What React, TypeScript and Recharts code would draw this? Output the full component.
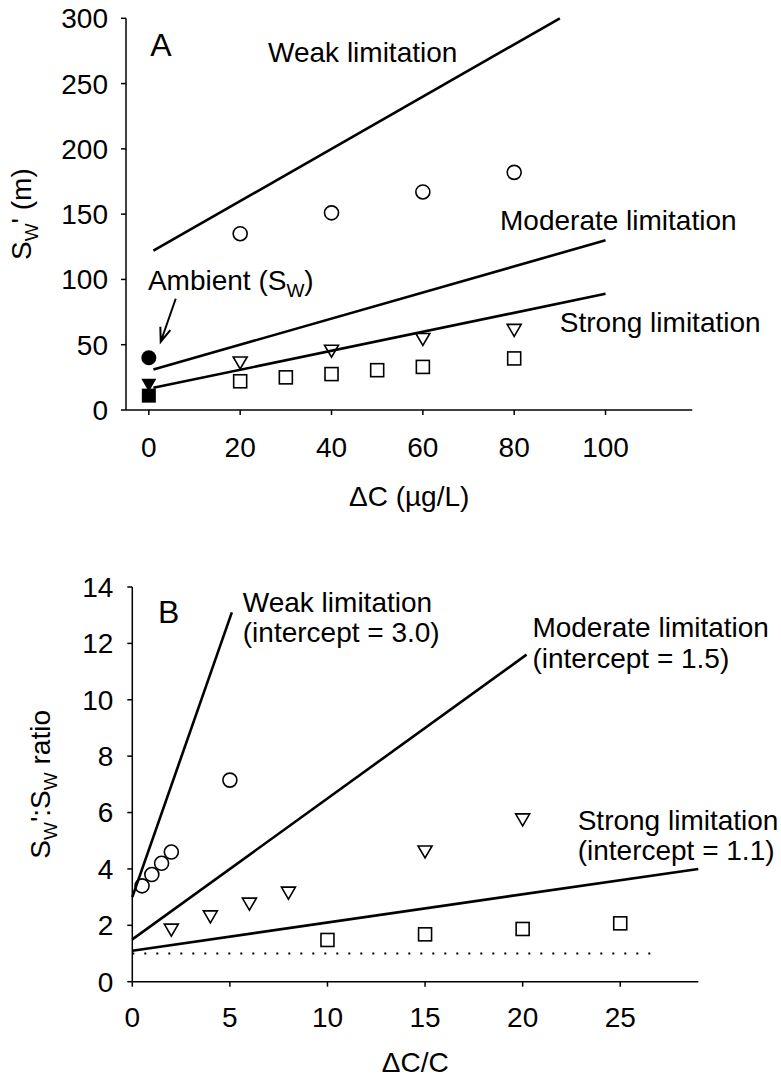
import React from "react";
import { ScatterChart, Scatter, XAxis, YAxis, Label } from "recharts";

const FONT = '"Liberation Sans", Arial, Helvetica, sans-serif';

// ---- Panel A: Sw' (m) against ΔC (µg/L) ----
const aXTicks = [0, 20, 40, 60, 80, 100];
const aYTicks = [0, 50, 100, 150, 200, 250, 300];

const aWeakFit = [{ x: 1, y: 122 }, { x: 90, y: 300 }];
const aModerateFit = [{ x: 1, y: 31 }, { x: 100, y: 130 }];
const aStrongFit = [{ x: 1, y: 17 }, { x: 100, y: 89 }];

const aWeakObs = [{ x: 20, y: 135 }, { x: 40, y: 151 }, { x: 60, y: 167 }, { x: 80, y: 182 }];
const aModerateObs = [{ x: 20, y: 36 }, { x: 40, y: 45 }, { x: 60, y: 54 }, { x: 80, y: 61 }];
const aStrongObs = [
  { x: 20, y: 22 }, { x: 30, y: 25 }, { x: 40, y: 27.5 },
  { x: 50, y: 30.5 }, { x: 60, y: 33 }, { x: 80, y: 39.5 },
];
const aAmbientWeak = [{ x: 0, y: 40 }];
const aAmbientModerate = [{ x: 0, y: 19 }];
const aAmbientStrong = [{ x: 0, y: 11 }];

const aNotes = [
  { x: 0.3, y: 271.5, big: true, parts: [{ t: "A" }] },
  { x: 26.1, y: 266.3, parts: [{ t: "Weak limitation" }] },
  { x: 76.9, y: 137.7, parts: [{ t: "Moderate limitation" }] },
  { x: 90, y: 59.9, parts: [{ t: "Strong limitation" }] },
  { x: -0.2, y: 91.8, parts: [{ t: "Ambient (S" }, { t: "W", sub: true }, { t: ")" }] },
];
const aArrowTip = [{ x: 2.6, y: 52.3 }];

// ---- Panel B: Sw':Sw ratio against ΔC/C ----
const bXTicks = [0, 5, 10, 15, 20, 25];
const bYTicks = [0, 2, 4, 6, 8, 10, 12, 14];

const bWeakFit = [{ x: 0, y: 3.0 }, { x: 5.1, y: 13.1 }];
const bModerateFit = [{ x: 0, y: 1.5 }, { x: 20.2, y: 11.6 }];
const bStrongFit = [{ x: 0, y: 1.1 }, { x: 29, y: 4.0 }];
const bUnity = [{ x: 0, y: 1 }, { x: 27, y: 1 }];

const bWeakObs = [{ x: 0.5, y: 3.4 }, { x: 1, y: 3.8 }, { x: 1.5, y: 4.2 }, { x: 2, y: 4.6 }, { x: 5, y: 7.15 }];
const bModerateObs = [
  { x: 2, y: 1.83 }, { x: 4, y: 2.3 }, { x: 6, y: 2.75 },
  { x: 8, y: 3.14 }, { x: 15, y: 4.6 }, { x: 20, y: 5.74 },
];
const bStrongObs = [{ x: 10, y: 1.48 }, { x: 15, y: 1.68 }, { x: 20, y: 1.87 }, { x: 25, y: 2.07 }];

const bNotes = [
  { x: 1.32, y: 12.72, big: true, parts: [{ t: "B" }] },
  { x: 5.66, y: 13.13, parts: [{ t: "Weak limitation" }] },
  { x: 5.66, y: 12.06, parts: [{ t: "(intercept = 3.0)" }] },
  { x: 20.5, y: 12.24, parts: [{ t: "Moderate limitation" }] },
  { x: 20.5, y: 11.12, parts: [{ t: "(intercept = 1.5)" }] },
  { x: 22.82, y: 5.38, parts: [{ t: "Strong limitation" }] },
  { x: 22.82, y: 4.32, parts: [{ t: "(intercept = 1.1)" }] },
];

// ---- shapes ----
const none = () => <g />;
const openCircle = (p: any) => (
  <circle cx={p.cx} cy={p.cy} r={7} fill="none" stroke="#000" strokeWidth={1.6} />
);
const solidCircle = (p: any) => <circle cx={p.cx} cy={p.cy} r={7.5} fill="#000" />;
const openSquare = (p: any) => (
  <rect x={p.cx - 6.5} y={p.cy - 6.5} width={13} height={13} fill="none" stroke="#000" strokeWidth={1.6} />
);
const solidSquare = (p: any) => <rect x={p.cx - 7} y={p.cy - 7} width={14} height={14} fill="#000" />;
const openTriangle = (p: any) => (
  <path
    d={`M${p.cx - 7},${p.cy - 6}L${p.cx + 7},${p.cy - 6}L${p.cx},${p.cy + 6}Z`}
    fill="none" stroke="#000" strokeWidth={1.6}
  />
);
const solidTriangle = (p: any) => (
  <path d={`M${p.cx - 7.5},${p.cy - 6.5}L${p.cx + 7.5},${p.cy - 6.5}L${p.cx},${p.cy + 6.5}Z`} fill="#000" />
);

function richText(parts: { t: string; sub?: boolean }[], size = 28) {
  let prevSub = false;
  return parts.map((p, i) => {
    const dy = p.sub ? 7 : prevSub ? -7 : 0;
    prevSub = !!p.sub;
    return (
      <tspan key={i} dy={dy} fontSize={p.sub ? 19 : size}>
        {p.t}
      </tspan>
    );
  });
}

const noteShape = (p: any) => (
  <text x={p.cx} y={p.cy} fontSize={28} fontFamily={FONT} fill="#000" textAnchor="start">
    {richText(p.payload.parts, p.payload.big ? 32 : 28)}
  </text>
);

const arrowShape = (p: any) => {
  const { cx, cy } = p;
  const dx = 15, dy = -43;
  const len = Math.hypot(dx, dy);
  const ux = dx / len, uy = dy / len;
  const a = 0.36, L = 15;
  const b1x = cx + L * (ux * Math.cos(a) - uy * Math.sin(a));
  const b1y = cy + L * (ux * Math.sin(a) + uy * Math.cos(a));
  const b2x = cx + L * (ux * Math.cos(-a) - uy * Math.sin(-a));
  const b2y = cy + L * (ux * Math.sin(-a) + uy * Math.cos(-a));
  return (
    <path
      d={`M${cx + dx},${cy + dy}L${cx},${cy}M${b1x},${b1y}L${cx},${cy}L${b2x},${b2y}`}
      stroke="#000" strokeWidth={2} fill="none"
    />
  );
};

const fitLine = { stroke: "#000", strokeWidth: 2.6 };
const axisStyle = { stroke: "#000", strokeWidth: 1.5 };
const tickStyle = { fill: "#000", fontSize: 28, fontFamily: FONT };

const yTitleA = (props: any) => {
  const vb = props.viewBox;
  const x = vb.x + 31;
  const y = vb.y + vb.height / 2;
  return (
    <text transform={`translate(${x},${y}) rotate(-90)`} textAnchor="middle" fontFamily={FONT} fontSize={28} fill="#000">
      {richText([{ t: "S" }, { t: "W", sub: true }, { t: "' (m)" }])}
    </text>
  );
};

const xTitleA = (props: any) => {
  const vb = props.viewBox;
  return (
    <text x={vb.x + vb.width / 2} y={vb.y + 96} textAnchor="middle" fontFamily={FONT} fontSize={28} fill="#000">
      ΔC (µg/L)
    </text>
  );
};

const yTitleB = (props: any) => {
  const vb = props.viewBox;
  const x = vb.x + 50;
  const y = vb.y + vb.height / 2;
  return (
    <text transform={`translate(${x},${y}) rotate(-90)`} textAnchor="middle" fontFamily={FONT} fontSize={28} fill="#000">
      {richText([{ t: "S" }, { t: "W", sub: true }, { t: "':S" }, { t: "W", sub: true }, { t: " ratio" }])}
    </text>
  );
};

const xTitleB = (props: any) => {
  const vb = props.viewBox;
  return (
    <text x={vb.x + vb.width / 2} y={vb.y + 90} textAnchor="middle" fontFamily={FONT} fontSize={28} fill="#000">
      ΔC/C
    </text>
  );
};

function PanelA() {
  return (
    <ScatterChart width={781} height={525} margin={{ top: 18.3, right: 88.7, bottom: 55, left: 0 }}>
      <XAxis
        type="number" dataKey="x" domain={[-5, 119]} ticks={aXTicks} height={60}
        axisLine={axisStyle} tickLine={axisStyle} tickSize={5} tickMargin={22} tick={tickStyle}
      >
        <Label content={xTitleA} />
      </XAxis>
      <YAxis
        type="number" dataKey="y" domain={[0, 300]} ticks={aYTicks} width={126}
        axisLine={axisStyle} tickLine={axisStyle} tickSize={5} tickMargin={13} tick={tickStyle}
      >
        <Label content={yTitleA} />
      </YAxis>
      <Scatter data={aWeakFit} line={fitLine} shape={none} isAnimationActive={false} />
      <Scatter data={aModerateFit} line={fitLine} shape={none} isAnimationActive={false} />
      <Scatter data={aStrongFit} line={fitLine} shape={none} isAnimationActive={false} />
      <Scatter data={aWeakObs} shape={openCircle} isAnimationActive={false} />
      <Scatter data={aModerateObs} shape={openTriangle} isAnimationActive={false} />
      <Scatter data={aStrongObs} shape={openSquare} isAnimationActive={false} />
      <Scatter data={aAmbientWeak} shape={solidCircle} isAnimationActive={false} />
      <Scatter data={aAmbientStrong} shape={solidSquare} isAnimationActive={false} />
      <Scatter data={aAmbientModerate} shape={solidTriangle} isAnimationActive={false} />
      <Scatter data={aArrowTip} shape={arrowShape} isAnimationActive={false} />
      <Scatter data={aNotes} shape={noteShape} isAnimationActive={false} />
    </ScatterChart>
  );
}

function PanelB() {
  return (
    <ScatterChart width={781} height={539} margin={{ top: 47, right: 82.7, bottom: 37.3, left: 0 }}>
      <XAxis
        type="number" dataKey="x" domain={[0, 29]} ticks={bXTicks} height={60}
        axisLine={axisStyle} tickLine={axisStyle} tickSize={5} tickMargin={20} tick={tickStyle}
      >
        <Label content={xTitleB} />
      </XAxis>
      <YAxis
        type="number" dataKey="y" domain={[0, 14]} ticks={bYTicks} width={132.3}
        axisLine={axisStyle} tickLine={axisStyle} tickSize={5} tickMargin={14} tick={tickStyle}
      >
        <Label content={yTitleB} />
      </YAxis>
      <Scatter
        data={bUnity}
        line={{ stroke: "#000", strokeWidth: 2, strokeDasharray: "2 10" }}
        shape={none}
        isAnimationActive={false}
      />
      <Scatter data={bWeakFit} line={fitLine} shape={none} isAnimationActive={false} />
      <Scatter data={bModerateFit} line={fitLine} shape={none} isAnimationActive={false} />
      <Scatter data={bStrongFit} line={fitLine} shape={none} isAnimationActive={false} />
      <Scatter data={bWeakObs} shape={openCircle} isAnimationActive={false} />
      <Scatter data={bModerateObs} shape={openTriangle} isAnimationActive={false} />
      <Scatter data={bStrongObs} shape={openSquare} isAnimationActive={false} />
      <Scatter data={bNotes} shape={noteShape} isAnimationActive={false} />
    </ScatterChart>
  );
}

export default function App() {
  return (
    <div style={{ position: "absolute", left: 0, top: 0, width: 781, height: 1079, background: "#fff", fontFamily: FONT }}>
      <div style={{ position: "absolute", left: 0, top: 0 }}>
        <PanelA />
      </div>
      <div style={{ position: "absolute", left: 0, top: 540 }}>
        <PanelB />
      </div>
    </div>
  );
}
